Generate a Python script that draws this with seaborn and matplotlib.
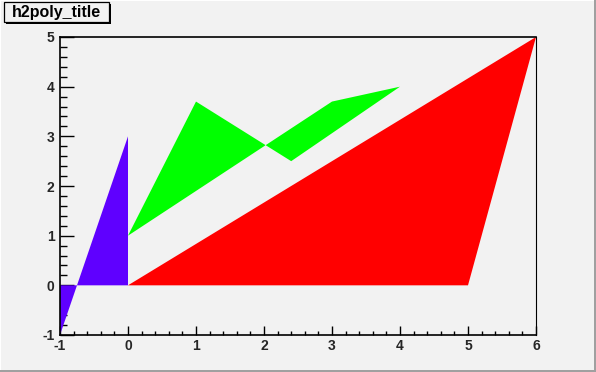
import matplotlib
matplotlib.use("Agg")
import matplotlib.pyplot as plt
from matplotlib.patches import Rectangle
from matplotlib.ticker import MultipleLocator
import seaborn as sns

# Data: TH2Poly bins (polygon vertices) and fill colours
bin_names = ["bin1", "bin2", "bin3"]
bin1_x = [-1, 0, 0, -1]
bin1_y = [-1, 3, 0, 0]
bin2_x = [0, 1, 2.4, 4, 3]
bin2_y = [1, 3.7, 2.5, 4, 3.7]
bin3_x = [0, 6, 5]
bin3_y = [0, 5, 0]
bin_colors = ["#5f00ff", "#00ff00", "#ff0000"]
title = "h2poly_title"
x_ticks = [-1, 0, 1, 2, 3, 4, 5, 6]
y_ticks = [-1, 0, 1, 2, 3, 4, 5]

sns.set_style("ticks")
plt.rcParams['font.family'] = ['Liberation Sans', 'DejaVu Sans']
plt.rcParams['font.weight'] = 'bold'
plt.rcParams['axes.unicode_minus'] = False

W, H = 596, 372
fig = plt.figure(figsize=(W / 100, H / 100), dpi=100)
fig.patch.set_facecolor("#f2f2f2")

ax = fig.add_axes([60 / W, (H - 335) / H, (536 - 60) / W, (335 - 37) / H])
ax.set_facecolor("#f2f2f2")

for xs, ys, c in zip([bin1_x, bin2_x, bin3_x], [bin1_y, bin2_y, bin3_y], bin_colors):
    ax.fill(xs, ys, color=c, linewidth=0)

ax.set_xlim(-1, 6)
ax.set_ylim(-1, 5)
ax.set_xticks(x_ticks)
ax.set_yticks(y_ticks)
ax.xaxis.set_minor_locator(MultipleLocator(0.2))
ax.yaxis.set_minor_locator(MultipleLocator(0.2))
ax.tick_params(axis='x', which='major', direction='in', length=6.5, width=1, pad=3,
               labelsize=10, color='black')
ax.tick_params(axis='x', which='minor', direction='in', length=3.2, width=1, color='black')
ax.tick_params(axis='y', which='major', direction='in', length=10, width=1, pad=4,
               labelsize=10, color='black')
ax.tick_params(axis='y', which='minor', direction='in', length=5, width=1, color='black')
for lab in ax.get_xticklabels() + ax.get_yticklabels():
    lab.set_fontweight('bold')
for side in ['left', 'bottom', 'top']:
    ax.spines[side].set_linewidth(1.2)
    ax.spines[side].set_color('black')
ax.spines['right'].set_linewidth(0.8)
ax.spines['right'].set_color('black')
ax.spines['top'].set_visible(True)
ax.spines['right'].set_visible(True)
ax.grid(False)

# Canvas bevel border
def px_rect(x0, y0, x1, y1, **kw):
    fig.patches.append(Rectangle((x0 / W, 1 - y1 / H), (x1 - x0) / W, (y1 - y0) / H,
                                 transform=fig.transFigure, figure=fig, **kw))

px_rect(0, 0, W, 1, facecolor='white', edgecolor='none')
px_rect(0, 0, 1, H, facecolor='white', edgecolor='none')
px_rect(W - 2, 0, W, H, facecolor='#a0a0a0', edgecolor='none')
px_rect(0, H - 2, W, H, facecolor='#a0a0a0', edgecolor='none')

# Title box with shadow
px_rect(6, 4, 111, 24, facecolor='black', edgecolor='none')
px_rect(4, 2, 109, 22, facecolor='#f2f2f2', edgecolor='black', linewidth=0.9)
fig.text(56.5 / W, 1 - 12.5 / H, title, ha='center', va='center',
         fontsize=11.5, fontweight='bold', color='black')

fig.savefig("out.png", dpi=100, facecolor=fig.get_facecolor())
